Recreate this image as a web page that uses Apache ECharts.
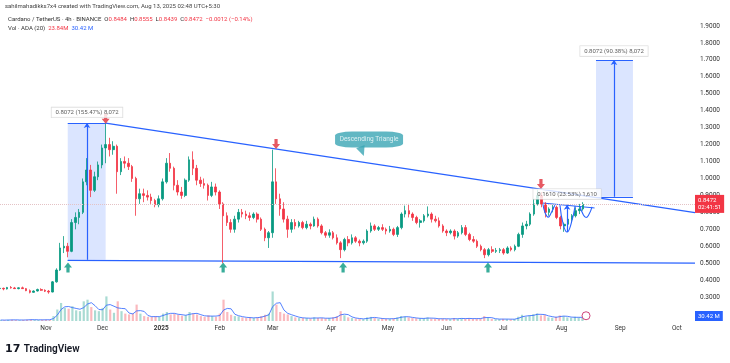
<!DOCTYPE html>
<html><head><meta charset="utf-8">
<script src="https://cdn.jsdelivr.net/npm/echarts@6/dist/echarts.min.js"></script>
<style>html,body{margin:0;padding:0;background:#fff}#c{width:730px;height:363px}</style>
</head><body><div id="c"></div>
<script>
// ---------- DATA (2-day candles) ----------
const dates = [
'2024-10-08','2024-10-10','2024-10-12','2024-10-14','2024-10-16','2024-10-18','2024-10-20','2024-10-22','2024-10-24','2024-10-26','2024-10-28','2024-10-30',
'2024-11-01','2024-11-03','2024-11-05','2024-11-07','2024-11-09','2024-11-11','2024-11-13','2024-11-15','2024-11-17','2024-11-19','2024-11-21','2024-11-23','2024-11-25','2024-11-27','2024-11-29',
'2024-12-01','2024-12-03','2024-12-05','2024-12-07','2024-12-09','2024-12-11','2024-12-13','2024-12-15','2024-12-17','2024-12-19','2024-12-21','2024-12-23','2024-12-25','2024-12-27','2024-12-29','2024-12-31',
'2025-01-02','2025-01-04','2025-01-06','2025-01-08','2025-01-10','2025-01-12','2025-01-14','2025-01-16','2025-01-18','2025-01-20','2025-01-22','2025-01-24','2025-01-26','2025-01-28','2025-01-30',
'2025-02-01','2025-02-03','2025-02-05','2025-02-07','2025-02-09','2025-02-11','2025-02-13','2025-02-15','2025-02-17','2025-02-19','2025-02-21','2025-02-23','2025-02-25','2025-02-27',
'2025-03-01','2025-03-03','2025-03-05','2025-03-07','2025-03-09','2025-03-11','2025-03-13','2025-03-15','2025-03-17','2025-03-19','2025-03-21','2025-03-23','2025-03-25','2025-03-27','2025-03-29','2025-03-31',
'2025-04-02','2025-04-04','2025-04-06','2025-04-08','2025-04-10','2025-04-12','2025-04-14','2025-04-16','2025-04-18','2025-04-20','2025-04-22','2025-04-24','2025-04-26','2025-04-28','2025-04-30',
'2025-05-02','2025-05-04','2025-05-06','2025-05-08','2025-05-10','2025-05-12','2025-05-14','2025-05-16','2025-05-18','2025-05-20','2025-05-22','2025-05-24','2025-05-26','2025-05-28','2025-05-30',
'2025-06-01','2025-06-03','2025-06-05','2025-06-07','2025-06-09','2025-06-11','2025-06-13','2025-06-15','2025-06-17','2025-06-19','2025-06-21','2025-06-23','2025-06-25','2025-06-27','2025-06-29',
'2025-07-01','2025-07-03','2025-07-05','2025-07-07','2025-07-09','2025-07-11','2025-07-13','2025-07-15','2025-07-17','2025-07-19','2025-07-21','2025-07-23','2025-07-25','2025-07-27','2025-07-29','2025-07-31',
'2025-08-02','2025-08-04','2025-08-06','2025-08-08','2025-08-10','2025-08-12'];

const openP = [0.350,0.352,0.348,0.357,0.354,0.350,0.355,0.350,0.338,0.328,0.336,0.345,
0.340,0.335,0.330,0.390,0.460,0.590,0.600,0.570,0.740,0.770,0.800,0.980,1.050,0.930,1.010,
1.080,1.180,1.200,1.170,1.190,1.040,1.100,1.090,1.070,1.000,0.880,0.910,0.900,0.890,0.870,0.845,
0.880,0.980,1.090,1.060,0.960,0.920,0.900,0.990,1.110,1.060,0.990,0.970,0.960,0.900,0.950,
0.920,0.850,0.780,0.740,0.700,0.760,0.800,0.790,0.780,0.770,0.790,0.760,0.700,0.650,
0.680,0.980,0.880,0.820,0.760,0.700,0.740,0.720,0.740,0.710,0.730,0.720,0.760,0.720,0.680,0.665,
0.680,0.650,0.620,0.580,0.640,0.620,0.650,0.630,0.620,0.630,0.690,0.720,0.700,0.710,0.700,
0.690,0.700,0.670,0.710,0.790,0.810,0.790,0.770,0.740,0.750,0.780,0.790,0.760,0.750,0.720,
0.690,0.680,0.690,0.660,0.680,0.710,0.670,0.640,0.630,0.600,0.580,0.550,0.580,0.570,0.575,
0.580,0.560,0.590,0.580,0.600,0.670,0.720,0.730,0.790,0.850,0.900,0.850,0.800,0.820,0.830,0.770,
0.720,0.730,0.760,0.780,0.810,0.820];

const highP = [0.358,0.356,0.360,0.365,0.360,0.358,0.362,0.354,0.345,0.340,0.350,0.352,
0.346,0.342,0.395,0.470,0.620,0.660,0.620,0.760,0.800,0.820,1.000,1.120,1.080,1.040,1.100,
1.200,1.327,1.240,1.220,1.200,1.120,1.130,1.120,1.080,1.010,0.940,0.940,0.930,0.910,0.880,0.900,
1.000,1.120,1.150,1.070,0.990,0.950,1.000,1.130,1.160,1.080,1.010,1.000,0.970,0.980,0.970,
0.930,0.860,0.800,0.760,0.780,0.820,0.820,0.810,0.800,0.800,0.800,0.770,0.710,0.690,
1.170,1.060,0.910,0.860,0.780,0.760,0.760,0.750,0.750,0.750,0.740,0.775,0.770,0.730,0.690,0.700,
0.690,0.670,0.630,0.650,0.660,0.670,0.660,0.640,0.640,0.700,0.740,0.730,0.720,0.730,0.710,
0.720,0.710,0.720,0.800,0.840,0.850,0.800,0.780,0.760,0.790,0.835,0.800,0.780,0.770,0.730,
0.700,0.700,0.700,0.690,0.725,0.725,0.680,0.660,0.640,0.610,0.590,0.590,0.600,0.590,0.590,
0.590,0.600,0.600,0.610,0.680,0.740,0.750,0.800,0.880,0.935,0.920,0.860,0.830,0.850,0.840,0.780,
0.740,0.770,0.790,0.830,0.850,0.860];

const lowP = [0.342,0.340,0.345,0.350,0.348,0.346,0.348,0.335,0.322,0.325,0.333,0.336,
0.330,0.320,0.328,0.385,0.455,0.560,0.535,0.565,0.700,0.730,0.790,0.960,0.890,0.920,0.990,
1.060,1.090,1.130,1.140,0.910,1.020,1.060,1.050,0.980,0.780,0.850,0.860,0.870,0.850,0.830,0.830,
0.870,0.970,1.040,0.930,0.900,0.880,0.890,0.980,1.020,0.960,0.950,0.940,0.870,0.890,0.900,
0.820,0.500,0.720,0.680,0.680,0.740,0.770,0.760,0.750,0.760,0.740,0.690,0.630,0.590,
0.650,0.850,0.780,0.740,0.650,0.680,0.700,0.710,0.700,0.700,0.700,0.715,0.710,0.670,0.650,0.650,
0.640,0.610,0.530,0.570,0.600,0.610,0.620,0.600,0.610,0.620,0.680,0.690,0.690,0.690,0.670,
0.680,0.660,0.655,0.700,0.770,0.770,0.750,0.730,0.710,0.740,0.770,0.740,0.740,0.710,0.680,
0.660,0.670,0.640,0.650,0.670,0.660,0.630,0.620,0.590,0.570,0.530,0.540,0.560,0.560,0.560,
0.550,0.555,0.570,0.570,0.595,0.650,0.700,0.720,0.780,0.840,0.830,0.770,0.780,0.800,0.760,0.700,
0.685,0.720,0.740,0.770,0.790,0.810];

const closeP = [0.352,0.348,0.357,0.354,0.350,0.355,0.350,0.338,0.328,0.336,0.345,0.340,
0.335,0.330,0.390,0.460,0.590,0.600,0.570,0.740,0.770,0.800,0.980,1.050,0.930,1.010,1.080,
1.180,1.200,1.170,1.190,1.040,1.100,1.090,1.070,1.000,0.880,0.910,0.900,0.890,0.870,0.845,0.880,
0.980,1.090,1.060,0.960,0.920,0.900,0.990,1.110,1.060,0.990,0.970,0.960,0.900,0.950,0.920,
0.850,0.780,0.740,0.700,0.760,0.800,0.790,0.780,0.770,0.790,0.760,0.700,0.650,0.680,
0.980,0.880,0.820,0.760,0.700,0.740,0.720,0.740,0.710,0.730,0.720,0.760,0.720,0.680,0.665,0.680,
0.650,0.620,0.580,0.640,0.620,0.650,0.630,0.620,0.630,0.690,0.720,0.700,0.710,0.700,0.690,
0.700,0.670,0.710,0.790,0.810,0.790,0.770,0.740,0.750,0.780,0.790,0.760,0.750,0.720,0.690,
0.680,0.690,0.660,0.680,0.710,0.670,0.640,0.630,0.600,0.580,0.550,0.580,0.570,0.575,0.580,
0.560,0.590,0.580,0.600,0.670,0.720,0.730,0.790,0.850,0.900,0.850,0.800,0.820,0.830,0.770,0.720,
0.730,0.760,0.780,0.810,0.820,0.8472];

const volume = [6,5,7,8,6,5,7,8,9,7,6,8,
8,7,30,70,110,80,75,90,65,60,120,130,85,65,60,
80,150,70,50,120,60,45,40,45,100,45,30,25,25,30,25,
45,55,40,45,38,32,35,55,45,40,30,25,35,30,25,
45,130,55,38,30,28,22,18,22,18,22,30,38,45,
180,100,55,45,40,30,22,18,18,18,15,22,18,18,15,18,
22,30,60,35,22,18,15,13,11,22,25,18,13,15,13,
13,16,22,30,26,22,18,16,15,16,22,15,13,13,15,
13,11,18,13,16,15,16,13,15,16,30,18,13,11,11,
13,11,10,12,26,38,26,34,42,46,34,38,22,20,26,34,
30,22,20,26,22,18];

const monthLabels = ['2025','Feb','Mar','Apr','May','Jun','Jul','Aug','Sep','Oct','Nov','Dec'];
const lastPrice = 0.8472;
const volMaLast = 30.42;

// drawn annotations (data coordinates)
const resistanceLine = [['2024-12-03', 1.327], ['2025-10-10', 0.798]];
const supportLine = [['2024-11-13', 0.517], ['2025-10-10', 0.500]];
const necklineLine = [['2025-07-21T18:00', 0.855], ['2025-08-18', 0.826]];
const leftBox = {x1:'2024-11-13', x2:'2024-12-03', mid:'2024-11-23T04:00', bottom:0.52, top:1.327};
const rightBox = {x1:'2025-08-18T18:00', x2:'2025-09-07T06:00', mid:'2025-08-28T06:00', bottom:0.892, top:1.699};
const cupArrow = [['2025-08-03T12:00', 0.684], ['2025-08-03T12:00', 0.845]];
const cup1 = [['2025-07-21T18:00',0.848],['2025-07-23',0.795],['2025-07-24T12:00',0.772],['2025-07-26',0.795],['2025-07-28',0.842]];
const cup2 = [['2025-07-30T18:00',0.842],['2025-08-01T12:00',0.728],['2025-08-03T12:00',0.684],['2025-08-05T12:00',0.728],['2025-08-07T18:00',0.838]];
const cup3 = [['2025-08-10T08:00',0.835],['2025-08-12',0.787],['2025-08-13T12:00',0.770],['2025-08-15',0.787],['2025-08-16T16:00',0.832]];
const greenArrows = [['2024-11-13T03:00',0.475],['2025-02-03',0.475],['2025-04-07T07:00',0.475],['2025-06-22T18:00',0.475]];
const redArrows = [['2024-12-03',1.352],['2025-03-02T22:00',1.203],['2025-07-20T17:00',0.967]];
const textLabels = [
  {name:'0.8072 (155.47%) 8,072', at:['2024-11-23T04:00',1.390]},
  {name:'0.8072 (90.38%) 8,072', at:['2025-08-28T06:00',1.752]},
  {name:'0.1610 (23.53%) 1,610', at:['2025-08-03T12:00',0.908]}
];
const callout = {name:'Descending Triangle', box:['2025-04-21',1.230], tail:['2025-04-17T08:00',1.160]};
const xMin = '2024-10-08T06:00', xMax = '2025-10-10';

// ---------- CHART ----------
const ts = s => echarts.time.parse(s).getTime();
const P = a => a.map(p => [ts(p[0]), p[1]]);
const UP='#089981', DOWN='#F23645', BLUE='#2962FF';
const FONT = 'Roboto, "Liberation Sans", sans-serif';

const candleData = dates.map((d,i)=>[ts(d), openP[i], closeP[i], lowP[i], highP[i]]);
const volData = dates.map((d,i)=>({value:[ts(d), volume[i]], itemStyle:{color: closeP[i]>=openP[i]?'rgba(8,153,129,0.35)':'rgba(242,54,69,0.35)'}}));
const volMA = dates.map((d,i)=>{const s=volume.slice(Math.max(0,i-2),i+1);return [ts(d), s.reduce((a,b)=>a+b,0)/s.length];});

const upArrow = 'path://M5,0 L10,5 L7,5 L7,10 L3,10 L3,5 L0,5 Z';
const downArrow = 'path://M3,0 L7,0 L7,5 L10,5 L5,10 L0,5 L3,5 Z';

function boxMarks(b){
  return {
    area: [{coord:[ts(b.x1), b.bottom]},{coord:[ts(b.x2), b.top]}],
    lines: [
      [{coord:[ts(b.x1), b.top]},{coord:[ts(b.x2), b.top]}],
      [{coord:[ts(b.x1), b.bottom]},{coord:[ts(b.x2), b.bottom]}],
      [{coord:[ts(b.mid), b.bottom], symbol:'none'},{coord:[ts(b.mid), b.top], symbol:'arrow', symbolSize:[5,5]}]
    ]
  };
}
const lb = boxMarks(leftBox), rb = boxMarks(rightBox);

const chart = echarts.init(document.getElementById('c'), null, {renderer:'canvas'});
const cupSeries = [cup1,cup2,cup3].map(c=>({type:'line', xAxisIndex:0, yAxisIndex:0, data:P(c), smooth:0.5, symbol:'none', silent:true, lineStyle:{color:BLUE, width:1.1}, z:5}));

chart.setOption({
  animation:false,
  backgroundColor:'#fff',
  textStyle:{fontFamily:FONT},
  grid:[
    {left:0, right:35, top:9, bottom:32},
    {left:0, right:35, top:280, bottom:42}
  ],
  xAxis:[
    {type:'time', gridIndex:0, min:ts(xMin), max:ts(xMax), show:false},
    {type:'time', gridIndex:1, min:ts(xMin), max:ts(xMax), splitNumber:12,
     minInterval:27*864e5, maxInterval:32*864e5,
     axisLine:{show:false}, axisTick:{show:false}, splitLine:{show:false},
     axisLabel:{fontSize:6.5, color:'#333', margin:4, fontFamily:FONT,
       formatter:function(v){const d=new Date(v); if(d.getDate()!==1) return ''; const m=d.getMonth(); return m===0?'{y|'+monthLabels[0]+'}':monthLabels[m];},
       rich:{y:{fontWeight:'bold', fontSize:6.5, color:'#333'}}}}
  ],
  yAxis:[
    {type:'value', gridIndex:0, position:'right', min:0.1, max:2.0, interval:0.1,
     splitLine:{show:false}, axisLine:{show:false}, axisTick:{show:false},
     axisLabel:{fontSize:6.5, color:'#333', margin:5, fontFamily:FONT,
       formatter:v=> (v<0.15||v>1.95)?'':v.toFixed(4)}},
    {type:'value', gridIndex:1, min:0, max:250, show:false}
  ],
  series:[
    {type:'bar', xAxisIndex:1, yAxisIndex:1, data:volData, barWidth:2.2, silent:true},
    {type:'line', xAxisIndex:1, yAxisIndex:1, data:volMA, symbol:'none', silent:true, lineStyle:{color:BLUE, width:0.8}, z:3,
     markLine:{silent:true, symbol:'none', lineStyle:{color:'transparent', width:0}, data:[{yAxis:volMaLast}],
       label:{show:true, position:'end', distance:0, formatter:'30.42 M', backgroundColor:BLUE, color:'#fff', fontSize:6, padding:[2,3]}}},
    {type:'line', xAxisIndex:0, yAxisIndex:0, data:P(supportLine), symbol:'none', silent:true, lineStyle:{color:BLUE, width:1.2}, z:3,
     markArea:{silent:true, itemStyle:{color:'rgba(41,98,255,0.17)'}, data:[lb.area, rb.area]},
     markLine:{silent:true, symbol:'none', lineStyle:{color:BLUE, width:1.2, type:'solid'}, label:{show:false},
       data:[...lb.lines, ...rb.lines, [{coord:[ts(cupArrow[0][0]),cupArrow[0][1]], symbol:'none'},{coord:[ts(cupArrow[1][0]),cupArrow[1][1]], symbol:'arrow', symbolSize:[5,5]}]]}},
    {type:'candlestick', xAxisIndex:0, yAxisIndex:0, data:candleData, encode:{x:0, y:[1,2,3,4]}, barWidth:2.1, silent:true, z:4,
     itemStyle:{color:UP, color0:DOWN, borderColor:UP, borderColor0:DOWN, borderWidth:0.8},
     markLine:{silent:true, symbol:'none', lineStyle:{color:'#e4c2c5', type:'dotted', width:1}, data:[{yAxis:lastPrice}],
       label:{position:'end', distance:0, formatter:'0.8472\n02:41:51', backgroundColor:DOWN, color:'#fff', fontSize:6, lineHeight:7, padding:[2,3]}}},
    {type:'line', xAxisIndex:0, yAxisIndex:0, data:P(resistanceLine), symbol:'none', silent:true, lineStyle:{color:BLUE, width:1.2}, z:3},
    {type:'line', xAxisIndex:0, yAxisIndex:0, data:P(necklineLine), symbol:'none', silent:true, lineStyle:{color:BLUE, width:1}, z:3},
    ...cupSeries,
    {type:'scatter', xAxisIndex:0, yAxisIndex:0, data:P(greenArrows), symbol:upArrow, symbolSize:[8,10], itemStyle:{color:UP}, silent:true, z:6},
    {type:'scatter', xAxisIndex:0, yAxisIndex:0, data:P(redArrows), symbol:downArrow, symbolSize:[8,10], itemStyle:{color:'#E0303B'}, silent:true, z:6},
    {type:'scatter', xAxisIndex:0, yAxisIndex:0, data:[[ts('2025-08-13T12:00'), 0.19]], symbol:'circle', symbolSize:8, itemStyle:{color:'#fff', borderColor:'#C2185B', borderWidth:1}, silent:true, z:6},
    {type:'scatter', xAxisIndex:0, yAxisIndex:0, silent:true, z:7, symbolSize:0,
     data:textLabels.map(t=>({name:t.name, value:[ts(t.at[0]), t.at[1]]})),
     label:{show:true, position:'inside', formatter:'{b}', fontSize:6, color:'#333', backgroundColor:'#fff', borderColor:'#d0d0d0', borderWidth:0.6, padding:[2,4], fontFamily:FONT}},
    {type:'scatter', xAxisIndex:0, yAxisIndex:0, silent:true, z:8,
     data:[{value:[ts(callout.tail[0]), callout.tail[1]], symbol:'triangle', symbolRotate:200, symbolSize:[9,10]}],
     itemStyle:{color:'#3AA5B4'}},
    {type:'scatter', xAxisIndex:0, yAxisIndex:0, silent:true, z:9,
     data:[{name:callout.name, value:[ts(callout.box[0]), callout.box[1]]}],
     symbol:'roundRect', symbolSize:[68,16], itemStyle:{color:'#3AA5B4'},
     label:{show:true, position:'inside', formatter:'{b}', color:'#fff', fontSize:6.5, fontFamily:FONT}}
  ],
  graphic:[
    {type:'text', left:5, top:3, style:{text:'sahilmahadikks7x4 created with TradingView.com, Aug 13, 2025 02:48 UTC+5:30', fontSize:6, fill:'#444', fontFamily:FONT}},
    {type:'text', left:8, top:16, style:{text:'Cardano / TetherUS · 4h · BINANCE  O{r|0.8484}  H{r|0.8555}  L{r|0.8439}  C{r|0.8472}  {r|−0.0012 (−0.14%)}', fontSize:6, fill:'#333', fontFamily:FONT, rich:{r:{fill:DOWN, fontSize:6, fontFamily:FONT}}}},
    {type:'text', left:8, top:25, style:{text:'Vol · ADA (20)  {r|23.84M}  {b|30.42 M}', fontSize:6, fill:'#333', fontFamily:FONT, rich:{r:{fill:DOWN, fontSize:6, fontFamily:FONT}, b:{fill:BLUE, fontSize:6, fontFamily:FONT}}}},
    {type:'text', left:5, top:343, style:{text:'{l|17} {t|TradingView}', rich:{l:{fontSize:11, fontWeight:900, fill:'#131722', fontFamily:'"DejaVu Sans"'}, t:{fontSize:10, fontWeight:600, fill:'#131722', fontFamily:FONT}}}}
  ]
});
</script></body></html>
